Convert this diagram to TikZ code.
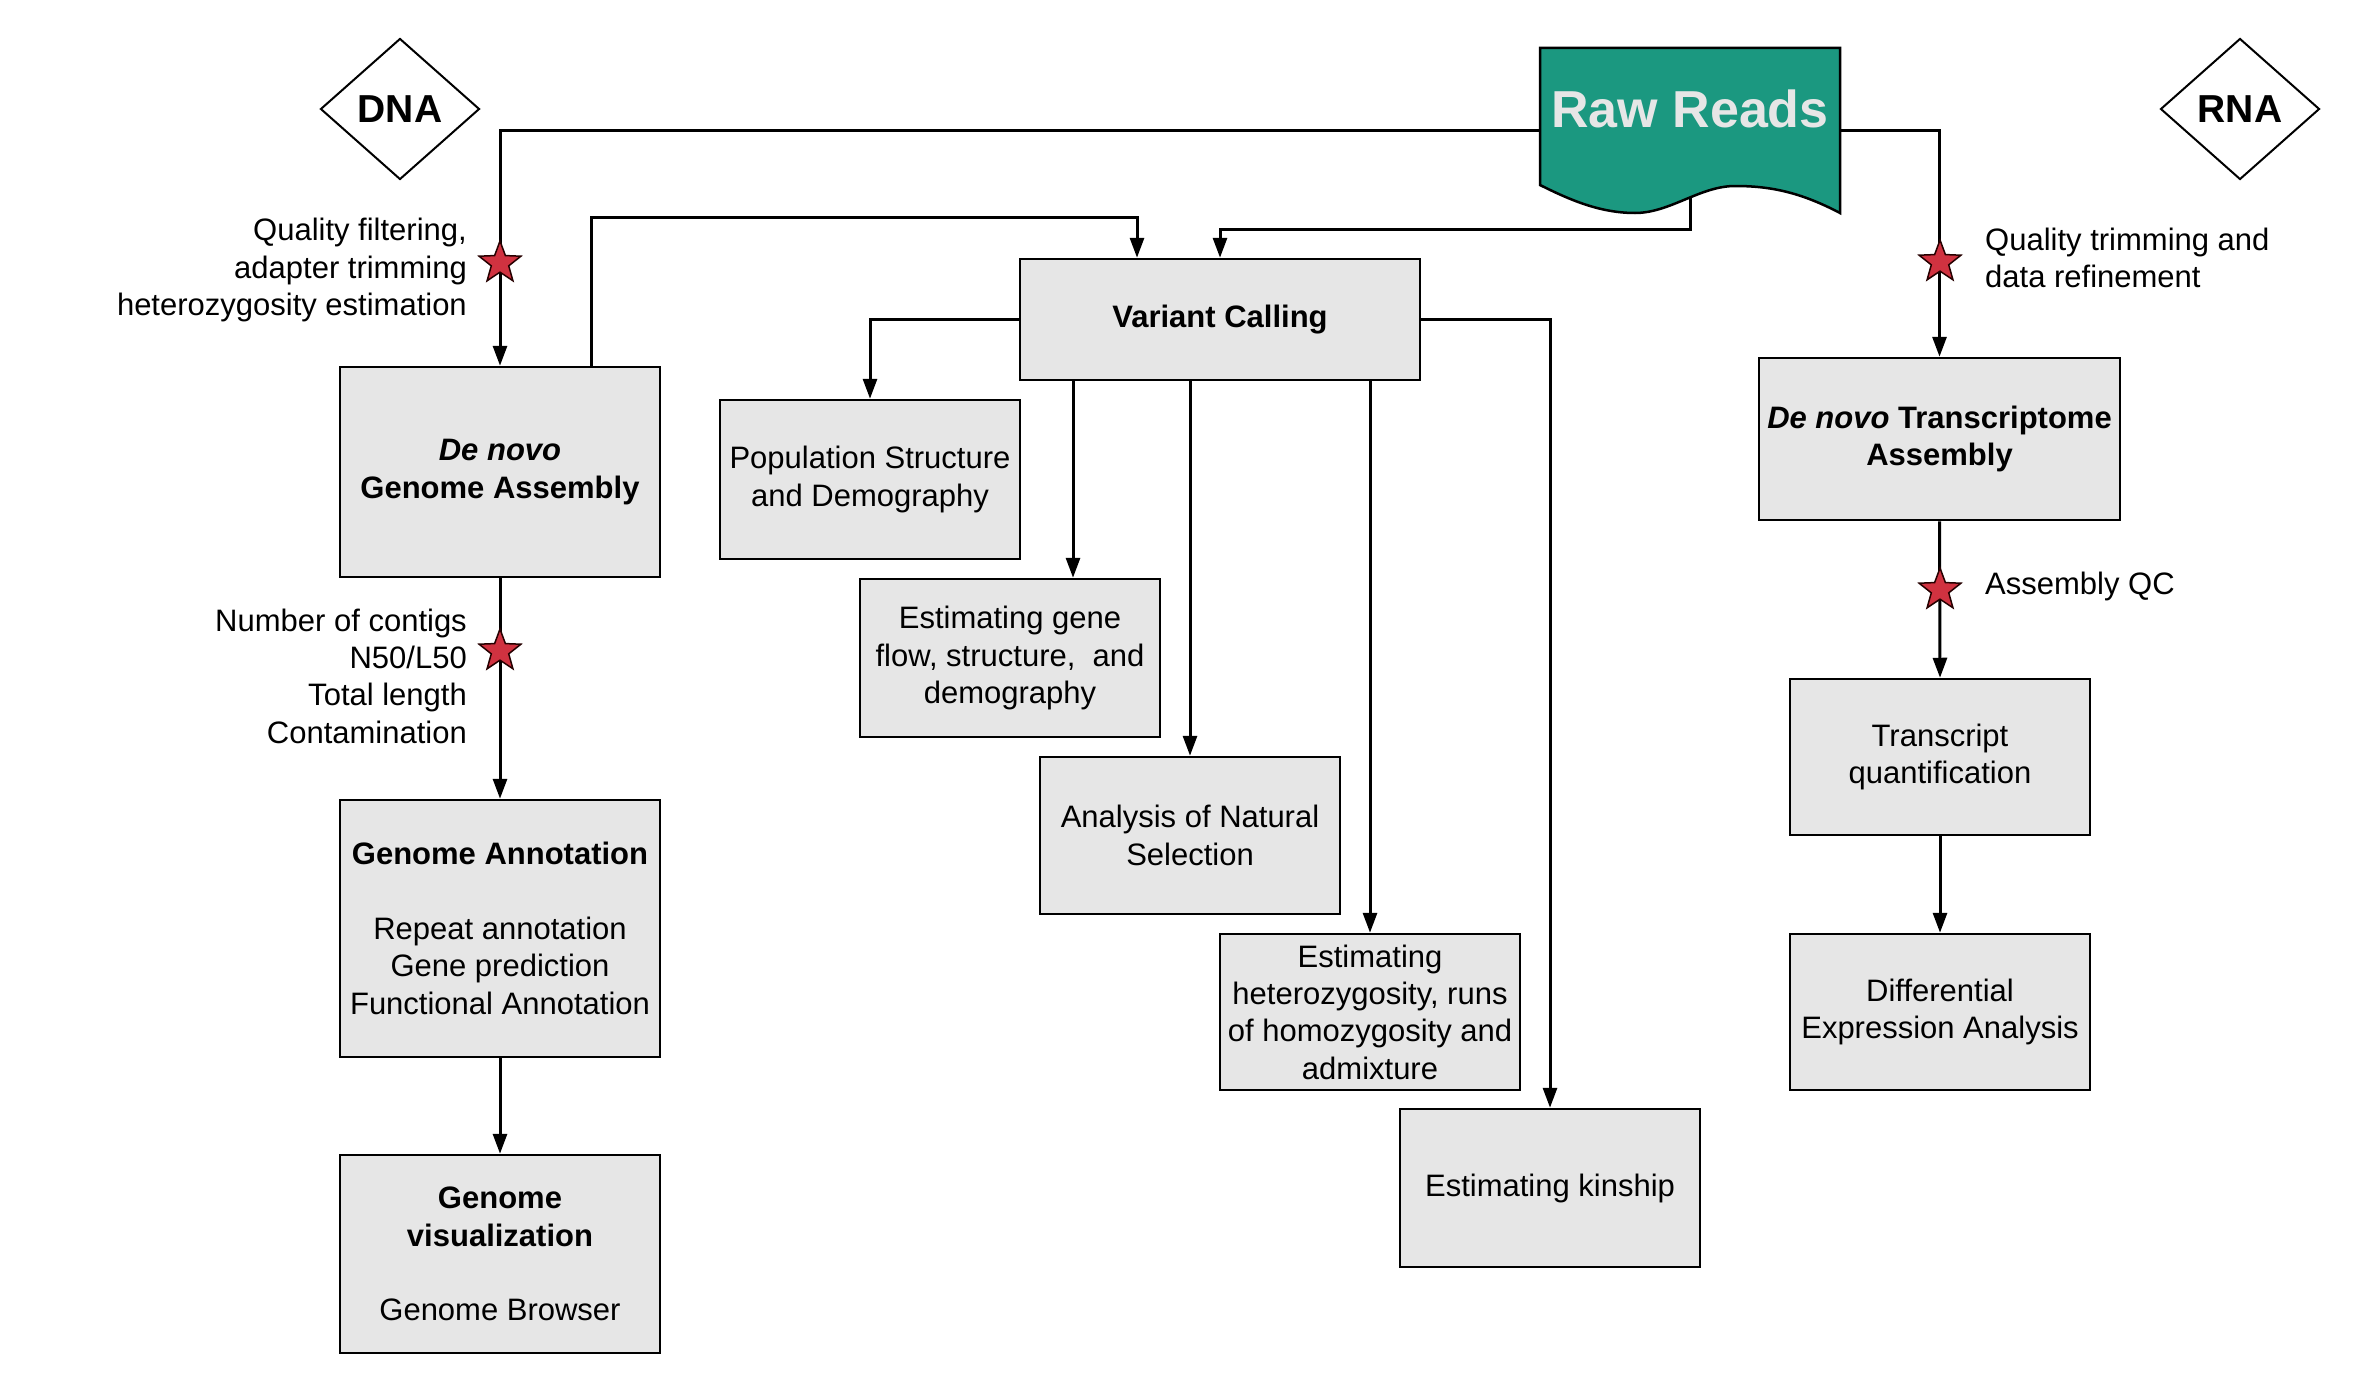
\documentclass[tikz,border=0pt]{standalone}
\usepackage{fontspec}
\setmainfont{Liberation Sans}
\usetikzlibrary{arrows.meta,shapes.geometric}
\definecolor{boxgray}{HTML}{E6E6E6}
\definecolor{tealfill}{RGB}{27,152,128}
\definecolor{starred}{RGB}{208,50,64}
\definecolor{rawtext}{HTML}{E6E6E6}
\pgfdeclarelayer{bg}
\pgfsetlayers{bg,main}
\begin{document}
\begin{tikzpicture}[x=1pt,y=-1pt,
  every node/.style={font=\fontsize{31}{37.3}\selectfont},
  procbox/.style={draw=black, line width=2.5pt, fill=boxgray, rectangle, inner sep=0pt, align=center},
  conn/.style={line width=3pt, -{Triangle[length=20pt,width=14pt]}},
  qstar/.style={star, star points=5, star point ratio=2.4, fill=starred, draw=black!85!red, line width=1.5pt, minimum size=44pt, inner sep=0pt},
  lbl/.style={inner sep=0pt},
  tag/.style={diamond, draw=black, line width=2pt, inner sep=0pt, minimum width=159pt, minimum height=141pt, font=\fontsize{39}{45}\selectfont\bfseries}
]
\useasboundingbox (0,0) rectangle (2360,1394);

% tags
\node[tag] (dna) at (400,109) {DNA};
\node[tag] (rna) at (2240,109) {RNA};

% raw reads document shape
\filldraw[fill=tealfill, draw=black, line width=2.5pt]
  (1540,48) -- (1840,48) -- (1840,213)
  .. controls (1800,192) and (1770,186) .. (1735,186)
  .. controls (1700,186) and (1670,213) .. (1635,213)
  .. controls (1600,213) and (1570,200) .. (1540,185) -- cycle;
\node[inner sep=0pt, minimum width=300pt, minimum height=165pt, text=rawtext,
      font=\fontsize{52}{60}\selectfont\bfseries] (raw) at (1690,130.5)
      {\raisebox{3pt}[0pt][0pt]{Raw Reads}};

% DNA column
\node[procbox, minimum width=320pt, minimum height=210pt] (asm) at (500,472)
  {\textbf{\textit{De novo}}\\\textbf{Genome Assembly}};
\node[procbox, minimum width=320pt, minimum height=257pt] (ann) at (500,928.5)
  {\textbf{Genome Annotation}\\[37.3pt]Repeat annotation\\Gene prediction\\Functional Annotation};
\node[procbox, minimum width=320pt, minimum height=198pt] (vis) at (500,1254)
  {\textbf{Genome}\\\textbf{visualization}\\[37.3pt]Genome Browser};

% variant calling branch
\node[procbox, minimum width=400pt, minimum height=121pt] (vc) at (1220,319.5)
  {\textbf{Variant Calling}};
\node[procbox, minimum width=300pt, minimum height=159pt] (pop) at (870,479.5)
  {Population Structure\\and Demography};
\node[procbox, minimum width=300pt, minimum height=158pt] (gene) at (1010,658)
  {Estimating gene\\flow, structure,~ and\\demography};
\node[procbox, minimum width=300pt, minimum height=157pt] (nat) at (1190,835.5)
  {Analysis of Natural\\Selection};
\node[procbox, minimum width=300pt, minimum height=156pt] (het) at (1370,1012)
  {Estimating\\heterozygosity, runs\\of homozygosity and\\admixture};
\node[procbox, minimum width=300pt, minimum height=158pt] (kin) at (1550,1188)
  {Estimating kinship};

% RNA column
\node[procbox, minimum width=361pt, minimum height=162pt] (tra) at (1939.5,439)
  {\textbf{\textit{De novo} Transcriptome}\\\textbf{Assembly}};
\node[procbox, minimum width=300pt, minimum height=156pt] (quant) at (1940,757)
  {Transcript\\quantification};
\node[procbox, minimum width=300pt, minimum height=156pt] (diff) at (1940,1012)
  {Differential\\Expression Analysis};

% labels
\node[lbl, anchor=east, align=right] (qf) at (467,270)
  {Quality filtering,\\adapter trimming\\heterozygosity estimation};
\node[lbl, anchor=east, align=right] (nc) at (467,676)
  {Number of contigs\\N50/L50\\Total length\\Contamination};
\node[lbl, anchor=west, align=left] (qt) at (1985,258)
  {Quality trimming and\\data refinement};
\node[lbl, anchor=west] (aqc) at (1985,586) {Assembly QC};

% QC stars
\node[qstar] (s1) at (500,263) {};
\node[qstar] (s2) at (500,651) {};
\node[qstar] (s3) at (1940,262) {};
\node[qstar] (s4) at (1940,590) {};

\begin{pgfonlayer}{bg}
\fill[white] (0,0) rectangle (2360,1394);
\draw[conn] (raw.west) -| (asm.north);
\draw[conn] (raw.east) -| (tra.north);
\draw[conn] (raw.center) -- ++(0,98.5) -| (vc.north);
\draw[conn] ([xshift=91pt]asm.north) -- ++(0,-148) -| ([xshift=-83pt]vc.north);
\draw[conn] (vc.west) -| (pop.north);
\draw[conn] ([xshift=-147pt]vc.south) -- ([xshift=-147pt]vc.south |- gene.north);
\draw[conn] (vc.south -| nat.north) -- (nat.north);
\draw[conn] (vc.south -| het.north) -- (het.north);
\draw[conn] (vc.east) -| (kin.north);
\draw[conn] (asm.south) -- (ann.north);
\draw[conn] (ann.south) -- (vis.north);
\draw[conn] (tra.south) -- (quant.north);
\draw[conn] (quant.south) -- (diff.north);
\end{pgfonlayer}
\end{tikzpicture}
\end{document}
